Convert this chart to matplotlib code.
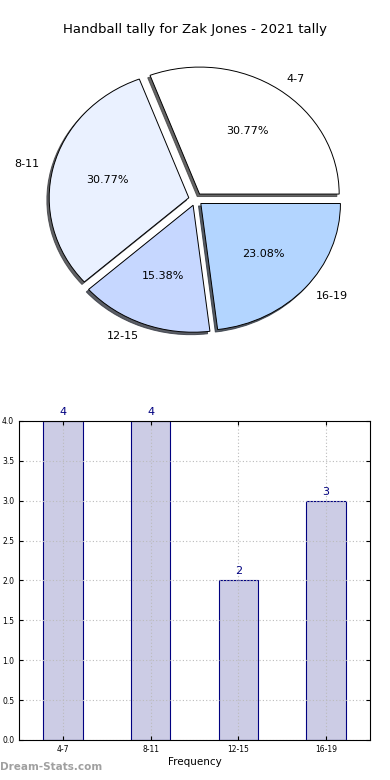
import numpy as np
from matplotlib import pyplot as plt

# data
categories = ['4-7', '8-11', '12-15', '16-19']
counts = [4, 4, 2, 3]
pie_colors = ['#ffffff', '#eaf1ff', '#c6d7ff', '#b3d5ff']
title = 'Handball tally for Zak Jones - 2021 tally'

fig = plt.figure(figsize=(3.9, 7.8), dpi=100)

# pie on top
ax1 = fig.add_axes([0.054, 0.541, 0.895, 0.407])
wedges, texts, autotexts = ax1.pie(counts, labels=categories, colors=pie_colors,
                                   explode=[0.05] * len(counts),
                                   shadow={'ox': -0.012, 'oy': -0.014, 'shade': 0.75,
                                           'alpha': 0.8},
                                   autopct='%.2f%%', startangle=0,
                                   counterclock=True,
                                   wedgeprops={'edgecolor': 'black', 'linewidth': 0.7},
                                   textprops={'fontsize': 8})
ax1.set_aspect('auto')
ax1.set_xlim(-1.25, 1.25)
ax1.set_ylim(-1.25, 1.25)
fig.text(0.5, 0.962, title, ha='center', va='center', fontsize=9.5)

# bars below
ax2 = fig.add_axes([0.0487, 0.0513, 0.9, 0.409])
x = np.arange(len(categories))
ax2.bar(x, counts, width=0.45, color='#cccce5', edgecolor='navy', linewidth=0.8, zorder=2)
for i, v in enumerate(counts):
    ax2.text(i, v + 0.05, str(v), ha='center', va='bottom', color='navy', fontsize=8)
ax2.set_xlim(-0.5, 3.5)
ax2.set_ylim(0, 4.0)
ax2.set_xticks(x)
ax2.set_xticklabels(categories)
ax2.set_yticks(np.arange(0, 4.01, 0.5))
ax2.tick_params(labelsize=5.5, direction='in', top=True, right=True, length=3)
ax2.grid(True, linestyle=(0, (1, 2)), color='#bbbbbb', linewidth=0.8, zorder=3)
ax2.set_axisbelow(False)
for s in ax2.spines.values():
    s.set_zorder(5)
ax2.set_xlabel('Frequency', fontsize=7.5, labelpad=2)

fig.text(0.0, 0.013, 'Dream-Stats.com', color='#a0a0a0', fontsize=7.5, fontweight='bold')

plt.savefig('out.png', dpi=100)
